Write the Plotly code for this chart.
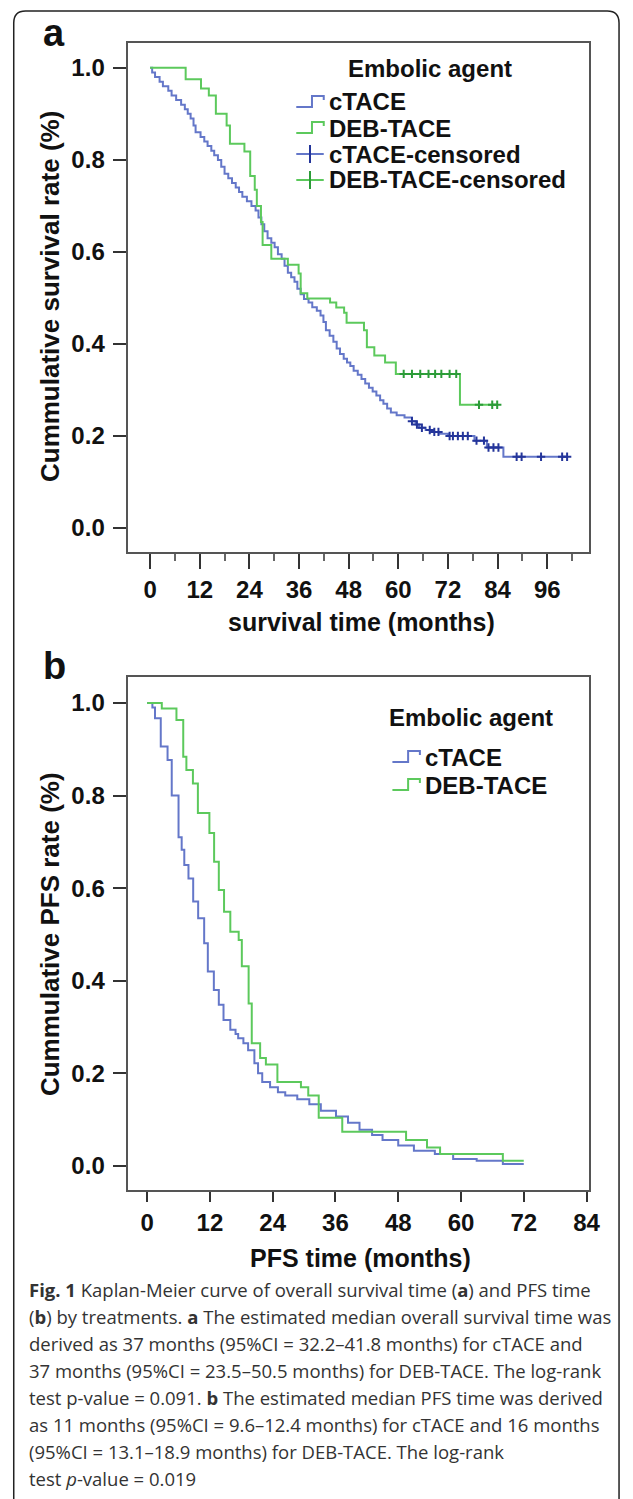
import plotly.graph_objects as go

W, H = 633, 1499


def fx(p):
    return p / W


def fy(p):
    return 1 - p / H


# ---------------- data: overall survival (panel a) ----------------
os_ctace_t = [0.5, 1.2, 2.3, 3.1, 4.4, 5.2, 6.3, 7.5, 8.4, 9.1, 9.8, 10.5, 11.0, 12.2, 13.1, 13.9,
              14.8, 15.5, 16.4, 17.2, 18.0, 18.9, 19.8, 20.7, 21.5, 22.3, 23.4, 24.5, 25.5, 26.2,
              26.9, 27.6, 28.4, 29.3, 30.1, 30.9, 31.8, 32.5, 33.3, 34.1, 34.9, 35.6, 36.4, 37.2,
              38.3, 39.2, 40.3, 41.2, 41.9, 42.5, 43.4, 44.3, 45.1, 45.9, 46.8, 47.6, 48.4, 49.2,
              50.2, 51.1, 52.0, 52.9, 53.8, 54.7, 55.6, 56.4, 57.3, 58.2, 59.6, 61.5, 63.3, 64.2,
              65.0, 66.6, 68.2, 70.0, 72.0, 78.4, 81.4, 85.4]
os_ctace_s = [0.99, 0.98, 0.97, 0.96, 0.95, 0.94, 0.93, 0.92, 0.91, 0.90, 0.89, 0.875, 0.86, 0.85,
              0.84, 0.83, 0.82, 0.81, 0.80, 0.785, 0.77, 0.76, 0.75, 0.74, 0.73, 0.72, 0.71, 0.70,
              0.69, 0.675, 0.66, 0.645, 0.63, 0.62, 0.61, 0.595, 0.585, 0.57, 0.555, 0.545, 0.535,
              0.52, 0.508, 0.498, 0.49, 0.48, 0.472, 0.462, 0.448, 0.43, 0.418, 0.405, 0.39, 0.378,
              0.368, 0.36, 0.352, 0.342, 0.333, 0.324, 0.314, 0.305, 0.297, 0.288, 0.278, 0.27,
              0.26, 0.251, 0.245, 0.24, 0.232, 0.225, 0.218, 0.213, 0.209, 0.205, 0.200, 0.19,
              0.175, 0.155]
os_ctace_end = 100.8
os_ctace_censored = [63.3, 64.5, 65.7, 67.6, 68.7, 69.7, 72.4, 73.2, 74.4, 75.6, 76.8, 78.9, 80.7,
                     81.8, 83.0, 84.2, 88.6, 89.8, 94.5, 99.6, 100.8]

os_deb_t = [8.6, 12.3, 14.2, 15.9, 18.5, 19.3, 22.8, 24.2, 25.3, 25.8, 26.8, 27.2, 29.3, 33.3,
            35.9, 36.4, 38.0, 43.5, 45.0, 46.9, 47.5, 51.7, 52.4, 54.2, 56.8, 59.4, 74.9]
os_deb_s = [0.975, 0.955, 0.94, 0.90, 0.875, 0.835, 0.818, 0.765, 0.735, 0.70, 0.665, 0.615,
            0.585, 0.572, 0.553, 0.51, 0.499, 0.49, 0.479, 0.468, 0.446, 0.43, 0.393, 0.375,
            0.36, 0.335, 0.268]
os_deb_end = 83.9
os_deb_censored = [61.3, 63.3, 65.3, 67.3, 68.9, 70.4, 72.4, 74.0, 79.5, 82.7, 83.9]

# ---------------- data: progression-free survival (panel b) ----------------
pfs_ctace_t = [1.0, 1.5, 2.6, 3.9, 4.7, 6.0, 6.6, 7.1, 7.9, 8.8, 9.75, 10.9, 11.6, 12.75, 13.7,
               14.6, 15.9, 16.9, 17.4, 18.4, 19.3, 20.5, 21.2, 22.0, 23.5, 25.0, 26.4, 28.7,
               31.0, 33.2, 36.1, 38.4, 40.6, 43.0, 45.0, 48.0, 51.0, 55.0, 58.5, 63.0, 68.0]
pfs_ctace_s = [0.99, 0.967, 0.906, 0.877, 0.80, 0.71, 0.683, 0.65, 0.621, 0.571, 0.535, 0.481,
               0.42, 0.38, 0.348, 0.315, 0.294, 0.285, 0.276, 0.265, 0.25, 0.222, 0.20, 0.181,
               0.17, 0.159, 0.152, 0.144, 0.133, 0.119, 0.107, 0.093, 0.078, 0.067, 0.056,
               0.044, 0.033, 0.026, 0.015, 0.011, 0.004]
pfs_ctace_end = 72.0

pfs_deb_t = [2.8, 5.6, 6.9, 7.5, 8.75, 9.7, 11.9, 12.8, 13.7, 14.7, 15.9, 17.5, 18.1, 19.4, 20.0,
             21.6, 22.7, 24.9, 29.4, 30.8, 32.8, 37.3, 49.5, 53.5, 56.0, 68.0]
pfs_deb_s = [0.988, 0.963, 0.884, 0.855, 0.826, 0.762, 0.719, 0.657, 0.596, 0.549, 0.506, 0.488,
             0.431, 0.351, 0.265, 0.233, 0.219, 0.181, 0.17, 0.152, 0.104, 0.074, 0.056, 0.04,
             0.026, 0.011]
pfs_deb_end = 72.0

os_ticks_x = [0, 12, 24, 36, 48, 60, 72, 84, 96]
pfs_ticks_x = [0, 12, 24, 36, 48, 60, 72, 84]
y_ticks = [0.0, 0.2, 0.4, 0.6, 0.8, 1.0]

BLUE = "#6477c9"
BLUE_DARK = "#24359a"
GREEN = "#5cc95c"
GREEN_DARK = "#2c9c38"
AXC = "#555555"
TXT = "#111111"
FONT = "Liberation Sans"


def km_xy(t_drops, s_after, t_end):
    xs, ys = [0.0], [1.0]
    for t, s in zip(t_drops, s_after):
        xs.append(t)
        ys.append(s)
    xs.append(t_end)
    ys.append(ys[-1])
    return xs, ys


def surv_at(t_drops, s_after, t):
    s = 1.0
    for td, sv in zip(t_drops, s_after):
        if td <= t:
            s = sv
    return s


fig = go.Figure()

# panel a
for (tt, ss, te, col) in [(os_ctace_t, os_ctace_s, os_ctace_end, BLUE),
                          (os_deb_t, os_deb_s, os_deb_end, GREEN)]:
    xs, ys = km_xy(tt, ss, te)
    fig.add_trace(go.Scatter(x=xs, y=ys, mode="lines", line=dict(color=col, width=2, shape="hv"),
                             showlegend=False, xaxis="x", yaxis="y", hoverinfo="skip"))
for (tt, ss, cens, col) in [(os_ctace_t, os_ctace_s, os_ctace_censored, BLUE_DARK),
                            (os_deb_t, os_deb_s, os_deb_censored, GREEN_DARK)]:
    fig.add_trace(go.Scatter(x=cens, y=[surv_at(tt, ss, c) for c in cens], mode="markers",
                             marker=dict(symbol="cross-thin", size=6, line=dict(color=col, width=2)),
                             showlegend=False, xaxis="x", yaxis="y", hoverinfo="skip"))

# panel b
for (tt, ss, te, col) in [(pfs_ctace_t, pfs_ctace_s, pfs_ctace_end, BLUE),
                          (pfs_deb_t, pfs_deb_s, pfs_deb_end, GREEN)]:
    xs, ys = km_xy(tt, ss, te)
    fig.add_trace(go.Scatter(x=xs, y=ys, mode="lines", line=dict(color=col, width=2, shape="hv"),
                             showlegend=False, xaxis="x2", yaxis="y2", hoverinfo="skip"))

tickfont = dict(family=FONT, size=24, color=TXT, weight="bold")
common_x = dict(showline=True, linewidth=2, linecolor=AXC, mirror=True, showgrid=False,
                zeroline=False, ticks="outside", ticklen=15, tickwidth=2, tickcolor="#333",
                tickfont=tickfont, tickmode="array")
common_y = dict(showline=True, linewidth=2, linecolor=AXC, mirror=True, showgrid=False,
                zeroline=False, ticks="outside", ticklen=13, tickwidth=2, tickcolor="#333",
                tickfont=tickfont, tickmode="array", tickvals=y_ticks, ticklabelstandoff=3,
                ticktext=[f"{v:.1f}" for v in y_ticks])

fig.update_layout(
    width=W, height=H, margin=dict(l=0, r=0, t=0, b=0),
    paper_bgcolor="white", plot_bgcolor="white", showlegend=False,
    xaxis=dict(common_x, domain=[fx(130), fx(600)], range=[-5.45, 106], anchor="y",
               tickvals=os_ticks_x, ticktext=[str(v) for v in os_ticks_x],
               minor=dict(tickmode="linear", tick0=6, dtick=12, ticks="outside", ticklen=7,
                          tickwidth=2, tickcolor="#666", showgrid=False)),
    yaxis=dict(common_y, domain=[fy(552), fy(43)], range=[-0.052, 1.054], anchor="x"),
    xaxis2=dict(common_x, domain=[fx(130), fx(600)], range=[-3.75, 84.4], anchor="y2",
                ticklen=10, tickvals=pfs_ticks_x, ticktext=[str(v) for v in pfs_ticks_x]),
    yaxis2=dict(common_y, domain=[fy(1190), fy(677)], range=[-0.052, 1.056], anchor="x2"),
)

ann = []


def text(x, y, s, size, bold=True, xanchor="center", angle=0, family=FONT, color=TXT):
    ann.append(dict(x=fx(x), y=fy(y), xref="paper", yref="paper", text=s, showarrow=False,
                    xanchor=xanchor, yanchor="middle", textangle=angle,
                    font=dict(family=family, size=size, color=color,
                              weight="bold" if bold else "normal")))


# panel labels
text(42, 33, "a", 38, xanchor="left")
text(42, 666, "b", 38, xanchor="left")
# axis titles
text(51, 297, "Cummulative survival rate (%)", 26, angle=-90)
text(368, 622, "survival time (months)", 25)
text(51, 934, "Cummulative PFS rate (%)", 26, angle=-90)
text(367, 1258, "PFS time (months)", 25)

# legends
shapes = []


def step_symbol(x0, yc, col):
    x1, xm, x2 = x0, x0 + 16, x0 + 28
    ylo, yhi = yc + 5, yc - 6
    path = (f"M {fx(x1)} {fy(ylo)} L {fx(xm)} {fy(ylo)} L {fx(xm)} {fy(yhi)} "
            f"L {fx(x2)} {fy(yhi)} L {fx(x2)} {fy(yhi + 4)}")
    shapes.append(dict(type="path", path=path, xref="paper", yref="paper",
                       line=dict(color=col, width=2)))


def cens_symbol(x0, yc, col, lcol):
    shapes.append(dict(type="line", x0=fx(x0), x1=fx(x0 + 28), y0=fy(yc), y1=fy(yc),
                       xref="paper", yref="paper", line=dict(color=lcol, width=2)))
    shapes.append(dict(type="line", x0=fx(x0 + 14), x1=fx(x0 + 14), y0=fy(yc - 9), y1=fy(yc + 9),
                       xref="paper", yref="paper", line=dict(color=col, width=2)))


text(438, 68, "Embolic agent", 24)
leg_a = [("cTACE", 102, "step", BLUE, BLUE), ("DEB-TACE", 128, "step", GREEN, GREEN),
         ("cTACE-censored", 154, "cens", BLUE_DARK, BLUE),
         ("DEB-TACE-censored", 180, "cens", GREEN_DARK, GREEN)]
for lab, yc, kind, col, lcol in leg_a:
    if kind == "step":
        step_symbol(302, yc, col)
    else:
        cens_symbol(302, yc, col, lcol)
    text(333, yc, lab, 24, xanchor="left")

text(480, 717, "Embolic agent", 24)
for lab, yc, col in [("cTACE", 757, BLUE), ("DEB-TACE", 785, GREEN)]:
    step_symbol(400, yc, col)
    text(431, yc, lab, 24, xanchor="left")

# outer frame
r = 12
frame = (f"M {fx(14)} {fy(1505)} L {fx(14)} {fy(11 + r)} Q {fx(14)} {fy(11)} {fx(14 + r)} {fy(11)} "
         f"L {fx(631 - r)} {fy(11)} Q {fx(631)} {fy(11)} {fx(631)} {fy(11 + r)} L {fx(631)} {fy(1505)}")
shapes.append(dict(type="path", path=frame, xref="paper", yref="paper",
                   line=dict(color="#222222", width=1.5)))

# caption
caption_lines = [
    "<b>Fig. 1</b> Kaplan-Meier curve of overall survival time (<b>a</b>) and PFS time",
    "(<b>b</b>) by treatments. <b>a</b> The estimated median overall survival time was",
    "derived as 37 months (95%CI = 32.2–41.8 months) for cTACE and",
    "37 months (95%CI = 23.5–50.5 months) for DEB-TACE. The log-rank",
    "test p-value = 0.091. <b>b</b> The estimated median PFS time was derived",
    "as 11 months (95%CI = 9.6–12.4 months) for cTACE and 16 months",
    "(95%CI = 13.1–18.9 months) for DEB-TACE. The log-rank",
    "test <i>p</i>-value = 0.019",
]
for i, line in enumerate(caption_lines):
    text(28, 1289 + i * 27, line, 18.5, bold=False, xanchor="left", family="Open Sans",
         color="#333333")

fig.update_layout(annotations=ann, shapes=shapes)
fig.write_html("out.html", config={"displayModeBar": False},
               post_script="document.body.style.margin='0';document.body.style.overflow='hidden';")
